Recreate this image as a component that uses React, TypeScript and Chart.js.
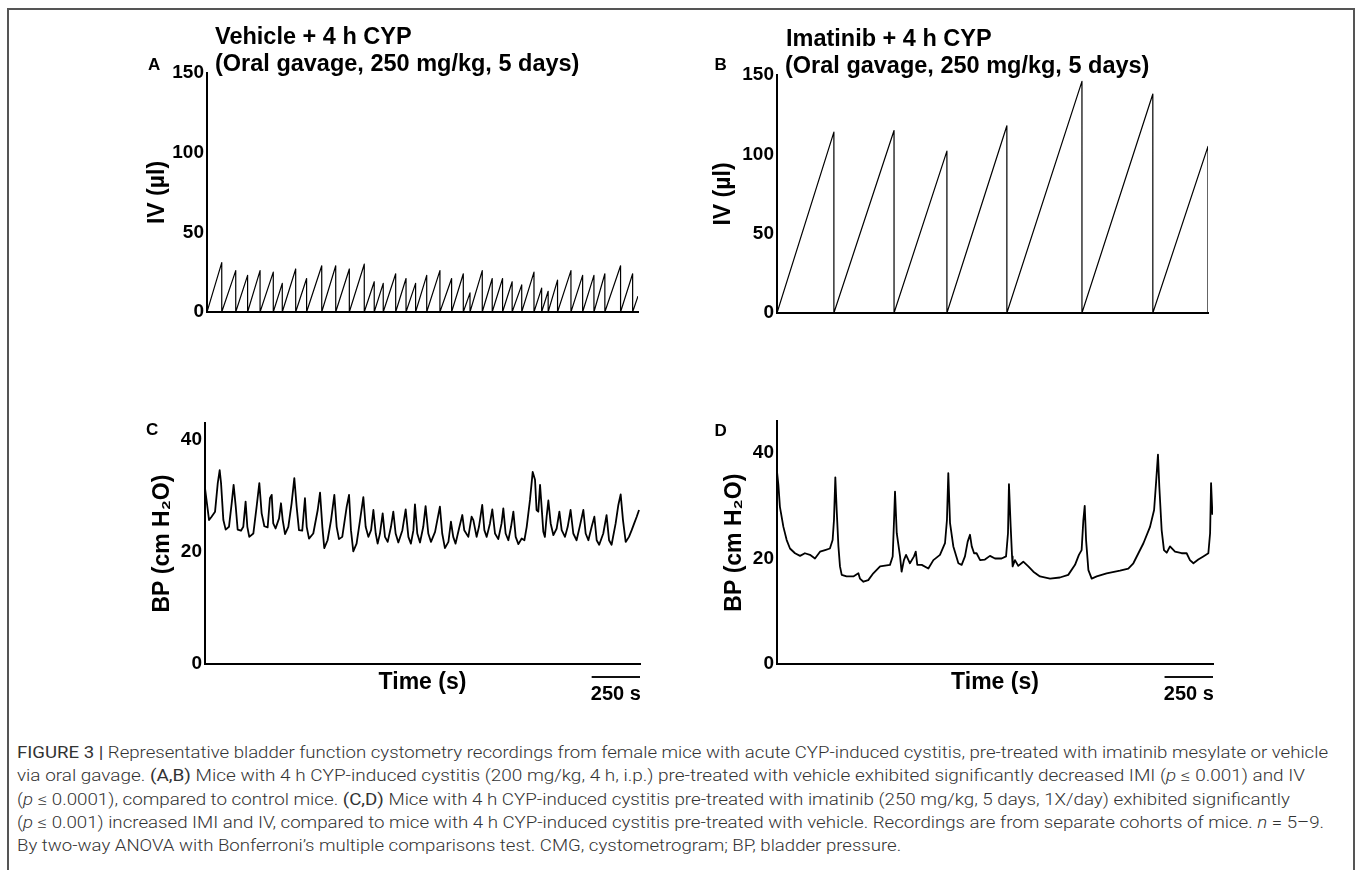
import React, { useEffect, useLayoutEffect, useRef, useState } from "react";
import { Chart, registerables } from "chart.js";

Chart.register(...registerables);

// ---------------- data ----------------
const TIME_MAX = 2250; // seconds shown in each trace
const SCALE_BAR_SECONDS = 250;

const ivTicks = [0, 50, 100, 150];
const bpTicks = [0, 20, 40];

// Panel A: Vehicle + 4 h CYP, voiding times (s) and peak infused volume (µl)
const ivTimesA = [77, 150, 212, 277, 346, 393, 463, 520, 599, 672, 743, 821, 873, 920, 985, 1039, 1089, 1147, 1216, 1277, 1338, 1373, 1437, 1489, 1543, 1593, 1643, 1707, 1747, 1781, 1830, 1900, 1961, 2020, 2077, 2159, 2222];
const ivPeaksA = [31, 26, 23, 26, 25, 18, 27, 21, 29, 29, 27, 30, 19, 18, 24, 21, 18, 23, 26, 21, 24, 12, 26, 21, 21, 19, 17, 25, 15, 13, 20, 26, 23, 23, 24, 29, 24];
const ivTailA = [2250, 10];

// Panel B: Imatinib + 4 h CYP
const ivTimesB = [297, 611, 887, 1200, 1592, 1962, 2250];
const ivPeaksB = [114, 115, 102, 118, 146, 138, 105];

// Panel C: bladder pressure (cm H2O), vehicle
const bpTraceC = [
  [0, 31.4], [21, 25.7], [34, 26.3], [52, 27.2], [66, 32.3], [76, 34.6], [83, 32.3], [95, 25.7], [107, 24.0], [124, 24.5],
  [138, 28.7], [148, 32.0], [159, 28.1], [169, 24.0], [186, 23.8], [198, 24.5], [210, 29.0], [219, 24.5], [229, 22.7], [250, 23.3],
  [267, 28.1], [281, 32.3], [293, 26.9], [307, 24.6], [324, 24.4], [336, 29.6], [345, 30.2], [353, 25.1], [365, 24.2], [383, 26.0],
  [393, 28.7], [402, 25.7], [414, 23.2], [431, 24.5], [448, 28.7], [462, 33.2], [474, 28.1], [486, 23.9], [503, 23.8], [517, 29.6],
  [526, 24.5], [538, 22.4], [560, 23.3], [583, 27.5], [595, 30.6], [607, 24.5], [617, 20.7], [634, 22.1], [652, 25.7], [669, 30.2],
  [681, 24.5], [693, 22.3], [710, 22.7], [733, 28.1], [745, 30.2], [755, 23.9], [767, 20.1], [784, 21.5], [802, 25.7], [819, 29.8],
  [831, 24.5], [845, 22.7], [859, 23.9], [871, 27.5], [883, 23.3], [893, 21.5], [905, 23.3], [919, 26.9], [931, 22.7], [945, 21.8],
  [962, 24.5], [974, 27.2], [986, 23.3], [1000, 21.7], [1021, 23.9], [1038, 27.6], [1052, 22.7], [1065, 21.5], [1078, 23.9], [1086, 28.5],
  [1098, 23.3], [1112, 21.7], [1129, 24.5], [1141, 28.2], [1155, 23.3], [1169, 21.8], [1190, 23.6], [1215, 28.1], [1227, 23.3], [1241, 20.7],
  [1259, 21.8], [1272, 25.4], [1284, 22.7], [1296, 21.5], [1314, 24.2], [1331, 26.6], [1341, 23.9], [1362, 22.7], [1379, 26.3], [1388, 25.7],
  [1405, 22.7], [1417, 24.5], [1434, 28.4], [1445, 23.9], [1457, 22.7], [1474, 25.1], [1486, 27.6], [1500, 23.3], [1517, 22.3], [1534, 25.1],
  [1543, 27.8], [1555, 23.3], [1569, 22.1], [1583, 24.5], [1595, 27.2], [1607, 22.7], [1621, 21.4], [1638, 22.4], [1652, 22.1], [1664, 24.5],
  [1681, 29.3], [1695, 34.3], [1707, 32.9], [1715, 27.5], [1724, 27.2], [1733, 32.0], [1741, 28.1], [1750, 23.6], [1758, 22.7], [1767, 26.3],
  [1776, 29.2], [1788, 25.1], [1802, 23.0], [1819, 24.2], [1833, 27.2], [1845, 23.9], [1862, 22.7], [1876, 24.5], [1891, 27.5], [1905, 23.3],
  [1922, 22.1], [1940, 24.8], [1957, 27.5], [1969, 23.3], [1983, 22.1], [2000, 24.5], [2014, 26.3], [2026, 22.1], [2039, 21.3], [2060, 23.3],
  [2077, 26.6], [2090, 22.1], [2103, 21.3], [2124, 25.1], [2138, 28.4], [2150, 30.3], [2162, 25.7], [2176, 21.8], [2193, 22.7], [2207, 23.9],
  [2220, 25.1], [2233, 26.3], [2245, 27.5],
];

// Panel D: bladder pressure (cm H2O), imatinib
const bpTraceD = [
  [0, 36.5], [7, 34.0], [15, 29.8], [33, 26.0], [50, 23.5], [67, 21.9], [93, 21.0], [119, 20.5], [144, 21.0], [170, 20.7],
  [196, 20.0], [222, 21.3], [248, 21.6], [273, 21.9], [287, 23.5], [294, 27.3], [301, 35.4], [308, 29.2], [317, 22.3], [325, 18.5],
  [334, 16.9], [359, 16.6], [394, 16.6], [420, 17.2], [428, 16.2], [446, 15.6], [471, 15.9], [497, 17.2], [532, 18.5], [583, 18.8],
  [597, 20.4], [604, 27.3], [609, 32.7], [618, 24.8], [635, 20.4], [643, 17.5], [655, 19.7], [666, 20.7], [686, 19.1], [707, 20.4],
  [716, 21.3], [724, 18.8], [747, 18.8], [781, 18.1], [807, 19.7], [841, 20.7], [867, 22.9], [877, 27.3], [884, 36.2], [893, 26.7],
  [910, 22.3], [936, 19.1], [953, 18.8], [970, 20.4], [984, 23.2], [996, 24.5], [1005, 22.3], [1017, 21.0], [1030, 21.0], [1048, 19.7],
  [1073, 19.8], [1099, 20.5], [1125, 20.0], [1159, 20.0], [1182, 20.4], [1192, 24.8], [1197, 34.1], [1206, 26.0], [1213, 20.4], [1216, 18.5],
  [1228, 19.7], [1245, 18.6], [1271, 19.4], [1297, 18.5], [1323, 17.5], [1357, 16.6], [1409, 16.2], [1460, 16.4], [1503, 16.9], [1538, 18.8],
  [1558, 20.7], [1572, 21.6], [1581, 27.3], [1588, 30.0], [1595, 23.5], [1607, 17.8], [1624, 16.2], [1650, 16.6], [1701, 17.2], [1770, 17.7],
  [1813, 18.1], [1839, 19.1], [1865, 21.0], [1891, 22.9], [1925, 26.0], [1946, 29.2], [1956, 34.3], [1966, 39.7], [1973, 33.6], [1985, 25.4],
  [1997, 21.6], [2011, 21.1], [2028, 22.3], [2054, 21.3], [2088, 21.0], [2114, 21.0], [2131, 19.7], [2149, 19.1], [2174, 19.8], [2200, 20.4],
  [2226, 21.0], [2235, 24.8], [2240, 34.3], [2247, 28.3],
];

// ---------------- helpers ----------------
const F = "'Liberation Sans', Arial, Helvetica, sans-serif";
const AXIS_TITLE_SIZE = 23;
const AXIS_TITLE_LH = 1.2;

function sawtooth(times: number[], peaks: number[], tail?: number[]) {
  const pts: { x: number; y: number }[] = [{ x: 0, y: 0 }];
  times.forEach((t, i) => {
    pts.push({ x: t, y: peaks[i] });
    pts.push({ x: t, y: 0 });
  });
  if (tail) pts.push({ x: tail[0], y: tail[1] });
  return pts;
}

function pairs(arr: number[][]) {
  return arr.map(([x, y]) => ({ x, y }));
}

const scaleBarPlugin = {
  id: "scaleBar",
  afterDraw(chart: any) {
    const xs = chart.scales.x;
    const area = chart.chartArea;
    const ctx = chart.ctx;
    const x1 = xs.getPixelForValue(TIME_MAX - SCALE_BAR_SECONDS);
    const x2 = xs.getPixelForValue(TIME_MAX);
    ctx.save();
    ctx.strokeStyle = "#111";
    ctx.lineWidth = 2;
    ctx.beginPath();
    ctx.moveTo(x1, area.bottom + 13);
    ctx.lineTo(x2, area.bottom + 13);
    ctx.stroke();
    ctx.fillStyle = "#000";
    ctx.font = `bold 20px ${F}`;
    ctx.textAlign = "center";
    ctx.textBaseline = "middle";
    ctx.fillText(`${SCALE_BAR_SECONDS} s`, (x1 + x2) / 2, area.bottom + 30);
    ctx.restore();
  },
};

type Spec = {
  canvas: { x: number; y: number; w: number; h: number };
  area: { l: number; t: number; r: number; b: number };
  yTitleX: number;
  xAxisH: number;
  yMax: number;
  yTicks: number[];
  yTitle: string;
  xTitle?: string;
  scaleBar: boolean;
  data: { x: number; y: number }[];
  lineWidth: number;
};

function Panel({ spec }: { spec: Spec }) {
  const ref = useRef<HTMLCanvasElement | null>(null);
  useEffect(() => {
    if (!ref.current) return;
    const half = (AXIS_TITLE_SIZE * AXIS_TITLE_LH) / 2;
    const yScaleLeft = spec.yTitleX - half;
    const padLeft = yScaleLeft - spec.canvas.x;
    const yWidth = spec.area.l - yScaleLeft;
    const padTop = spec.area.t - spec.canvas.y;
    const padRight = spec.canvas.x + spec.canvas.w - spec.area.r;
    const padBottom = spec.canvas.y + spec.canvas.h - spec.area.b - spec.xAxisH;
    const titleFont = { family: F, size: AXIS_TITLE_SIZE, weight: "bold" as const, lineHeight: AXIS_TITLE_LH };
    const chart = new Chart(ref.current, {
      type: "line",
      data: {
        datasets: [
          {
            data: spec.data,
            borderColor: "#000",
            borderWidth: spec.lineWidth,
            pointRadius: 0,
            tension: 0,
            fill: false,
            borderJoinStyle: "round",
          } as any,
        ],
      },
      options: {
        animation: false,
        responsive: false,
        devicePixelRatio: 1,
        events: [],
        layout: { padding: { left: padLeft, top: padTop, right: padRight, bottom: padBottom } },
        plugins: { legend: { display: false }, tooltip: { enabled: false }, title: { display: false } },
        scales: {
          x: {
            type: "linear",
            min: 0,
            max: TIME_MAX,
            grid: { display: false, drawTicks: false, tickLength: 0 },
            border: { display: true, color: "#000", width: 2 },
            ticks: { display: false },
            title: {
              display: !!spec.xTitle,
              text: spec.xTitle || "",
              color: "#000",
              font: titleFont,
              padding: 0,
            },
            afterFit: (s: any) => {
              s.height = spec.xAxisH;
            },
          },
          y: {
            type: "linear",
            min: 0,
            max: spec.yMax,
            afterBuildTicks: (s: any) => {
              s.ticks = spec.yTicks.map((v) => ({ value: v }));
            },
            grid: { display: false, drawTicks: false, tickLength: 0 },
            border: { display: true, color: "#000", width: 2 },
            ticks: { color: "#000", padding: 3, font: { family: F, size: 19, weight: "bold" } },
            title: { display: true, text: spec.yTitle, color: "#000", font: titleFont, padding: 0 },
            afterFit: (s: any) => {
              s.width = yWidth;
            },
          },
        },
      } as any,
      plugins: spec.scaleBar ? [scaleBarPlugin] : [],
    });
    return () => chart.destroy();
  }, [spec]);
  const { x, y, w, h } = spec.canvas;
  return (
    <canvas
      ref={ref}
      width={w}
      height={h}
      style={{ position: "absolute", left: x, top: y, width: w, height: h }}
    />
  );
}

const specA: Spec = {
  canvas: { x: 140, y: 40, w: 520, h: 290 },
  area: { l: 207, t: 73, r: 638, b: 312 },
  yTitleX: 157.5,
  xAxisH: 10,
  yMax: 150,
  yTicks: ivTicks,
  yTitle: "IV (µl)",
  scaleBar: false,
  data: sawtooth(ivTimesA, ivPeaksA, ivTailA),
  lineWidth: 1.2,
};
const specB: Spec = {
  canvas: { x: 700, y: 40, w: 530, h: 290 },
  area: { l: 777, t: 75, r: 1208, b: 313 },
  yTitleX: 724,
  xAxisH: 10,
  yMax: 150,
  yTicks: ivTicks,
  yTitle: "IV (µl)",
  scaleBar: false,
  data: sawtooth(ivTimesB, ivPeaksB),
  lineWidth: 1.2,
};
const specC: Spec = {
  canvas: { x: 140, y: 400, w: 520, h: 320 },
  area: { l: 205, t: 423.2, r: 640, b: 664 },
  yTitleX: 163,
  xAxisH: 32,
  yMax: 43,
  yTicks: bpTicks,
  yTitle: "BP (cm H₂O)",
  xTitle: "Time (s)",
  scaleBar: true,
  data: pairs(bpTraceC),
  lineWidth: 1.8,
};
const specD: Spec = {
  canvas: { x: 700, y: 400, w: 530, h: 320 },
  area: { l: 777, t: 421.4, r: 1213, b: 664 },
  yTitleX: 735,
  xAxisH: 32,
  yMax: 46,
  yTicks: bpTicks,
  yTitle: "BP (cm H₂O)",
  xTitle: "Time (s)",
  scaleBar: true,
  data: pairs(bpTraceD),
  lineWidth: 1.8,
};

function Txt({ x, y, size, children }: { x: number; y: number; size: number; children: React.ReactNode }) {
  return (
    <div
      style={{
        position: "absolute",
        left: x,
        top: y,
        fontFamily: F,
        fontWeight: 700,
        fontSize: size,
        lineHeight: `${size}px`,
        color: "#000",
        whiteSpace: "nowrap",
      }}
    >
      {children}
    </div>
  );
}

const CAPTION_FONT = "Roboto, 'Liberation Sans', Arial, sans-serif";
const captionTargets = [1311, 1288, 1273, 1307, 0];
const captionLines: React.ReactNode[] = [
  <>
    <b>FIGURE 3 |</b> Representative bladder function cystometry recordings from female mice with acute CYP-induced cystitis, pre-treated with imatinib mesylate or vehicle
  </>,
  <>
    via oral gavage. <b>(A,B)</b> Mice with 4 h CYP-induced cystitis (200 mg/kg, 4 h, i.p.) pre-treated with vehicle exhibited significantly decreased IMI (<i>p</i> ≤ 0.001) and IV
  </>,
  <>
    (<i>p</i> ≤ 0.0001), compared to control mice. <b>(C,D)</b> Mice with 4 h CYP-induced cystitis pre-treated with imatinib (250 mg/kg, 5 days, 1X/day) exhibited significantly
  </>,
  <>
    (<i>p</i> ≤ 0.001) increased IMI and IV, compared to mice with 4 h CYP-induced cystitis pre-treated with vehicle. Recordings are from separate cohorts of mice. <i>n</i> = 5–9.
  </>,
  <>By two-way ANOVA with Bonferroni’s multiple comparisons test. CMG, cystometrogram; BP, bladder pressure.</>,
];

function Caption() {
  const refs = useRef<(HTMLSpanElement | null)[]>([]);
  const [scales, setScales] = useState<number[]>(captionLines.map(() => 1));
  useLayoutEffect(() => {
    const widths = refs.current.map((el) => (el ? el.getBoundingClientRect().width : 0));
    const s = widths.map((w, i) => (captionTargets[i] && w ? captionTargets[i] / w : 0));
    const base = s[0] || 1;
    setScales(s.map((v) => v || base));
  }, []);
  const size = 16;
  const centers = [753, 776.2, 799.4, 822.6, 845.8];
  return (
    <>
      {captionLines.map((line, i) => (
        <span
          key={i}
          ref={(el) => {
            refs.current[i] = el;
          }}
          style={{
            position: "absolute",
            left: 17,
            top: centers[i] - size * 0.49,
            display: "inline-block",
            fontFamily: CAPTION_FONT,
            fontWeight: 300,
            fontSize: size,
            lineHeight: `${size}px`,
            color: "#333",
            whiteSpace: "nowrap",
            transformOrigin: "0 0",
            transform: `scaleX(${scales[i]})`,
          }}
        >
          {line}
        </span>
      ))}
    </>
  );
}

export default function App() {
  return (
    <div
      style={{
        position: "fixed",
        left: 0,
        top: 0,
        width: 1357,
        height: 870,
        overflow: "hidden",
        background: "#fff",
      }}
    >
      <div
        style={{
          position: "absolute",
          left: 7,
          top: 8,
          width: 1348,
          height: 870,
          boxSizing: "border-box",
          borderTop: "2px solid #555",
          borderLeft: "2px solid #555",
          borderRight: "2px solid #555",
        }}
      />
      <Panel spec={specA} />
      <Panel spec={specB} />
      <Panel spec={specC} />
      <Panel spec={specD} />

      <Txt x={215} y={25.2} size={23.5}>Vehicle + 4 h CYP</Txt>
      <Txt x={215} y={51.8} size={23.5}>(Oral gavage, 250 mg/kg, 5 days)</Txt>
      <Txt x={786} y={26.5} size={23.5}>Imatinib + 4 h CYP</Txt>
      <Txt x={785} y={53.5} size={23.5}>(Oral gavage, 250 mg/kg, 5 days)</Txt>

      <Txt x={148} y={55.7} size={17}>A</Txt>
      <Txt x={714.5} y={55.9} size={17}>B</Txt>
      <Txt x={146} y={421} size={17}>C</Txt>
      <Txt x={714.5} y={421.7} size={17}>D</Txt>

      <Caption />
    </div>
  );
}
